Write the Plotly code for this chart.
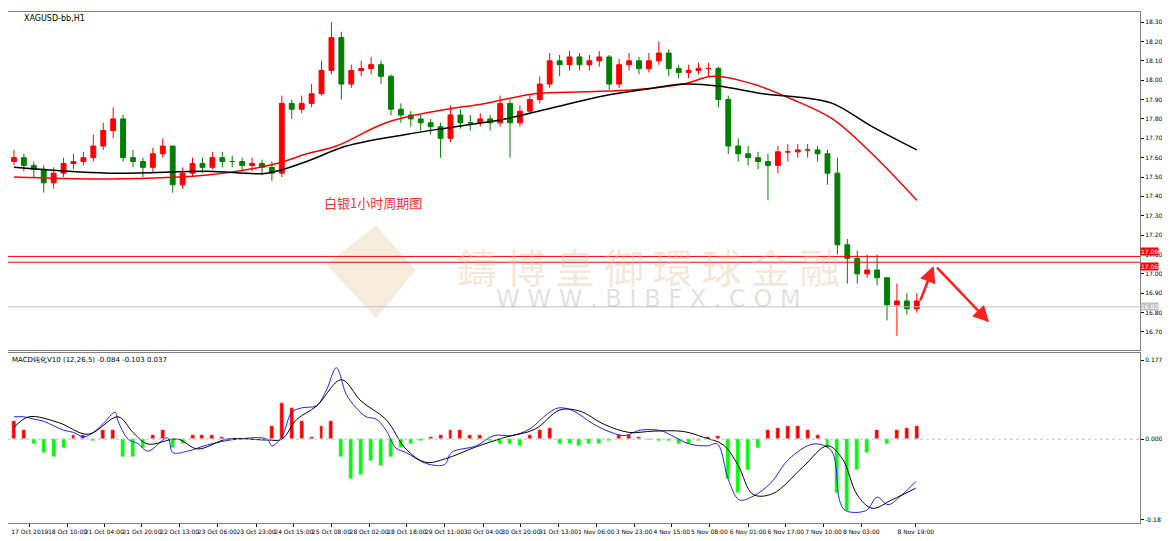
import plotly.graph_objects as go

first_open = 17.58
closes = [17.60,17.56,17.54,17.47,17.52,17.57,17.58,17.60,17.66,17.74,17.80,17.60,17.58,17.55,17.62,17.66,17.46,17.52,17.57,17.55,
          17.60,17.58,17.58,17.56,17.57,17.55,17.52,17.88,17.85,17.88,17.93,18.05,18.22,17.98,18.05,18.06,18.08,18.02,17.85,17.82,
          17.80,17.78,17.76,17.70,17.82,17.78,17.78,17.80,17.78,17.88,17.78,17.84,17.90,17.98,18.10,18.08,18.12,18.08,18.10,18.12,
          17.98,18.08,18.10,18.06,18.10,18.14,18.06,18.04,18.05,18.06,18.06,17.90,17.66,17.62,17.60,17.58,17.56,17.63,17.63,17.64,
          17.64,17.62,17.52,17.15,17.08,17.00,17.02,16.98,16.84,16.86,16.82,16.86]
highs = [17.64,17.62,17.58,17.56,17.55,17.60,17.62,17.63,17.72,17.78,17.86,17.82,17.64,17.60,17.65,17.70,17.64,17.55,17.60,17.60,
         17.63,17.63,17.61,17.60,17.60,17.59,17.58,17.92,17.90,17.92,17.98,18.10,18.30,18.25,18.08,18.10,18.12,18.10,18.03,17.88,
         17.84,17.82,17.80,17.78,17.87,17.85,17.82,17.83,17.82,17.92,17.90,17.87,17.93,18.02,18.14,18.13,18.15,18.14,18.13,18.15,
         18.13,18.11,18.14,18.12,18.14,18.20,18.16,18.08,18.08,18.09,18.09,18.07,17.92,17.70,17.66,17.63,17.62,17.66,17.67,17.67,
         17.67,17.66,17.64,17.60,17.18,17.12,17.10,17.10,16.98,16.95,16.90,16.90]
lows = [17.56,17.53,17.50,17.42,17.44,17.50,17.54,17.56,17.58,17.64,17.70,17.58,17.55,17.50,17.52,17.60,17.42,17.44,17.50,17.52,
        17.54,17.55,17.55,17.53,17.53,17.51,17.48,17.50,17.80,17.83,17.86,17.92,18.03,17.90,17.96,18.02,18.03,17.98,17.82,17.78,
        17.76,17.74,17.72,17.60,17.68,17.75,17.74,17.76,17.74,17.76,17.60,17.76,17.83,17.88,17.96,18.02,18.05,18.05,18.05,18.07,
        17.95,17.96,18.05,18.03,18.04,18.08,18.02,18.01,18.01,18.03,18.02,17.86,17.62,17.58,17.56,17.54,17.38,17.52,17.58,17.60,
        17.60,17.58,17.46,17.10,16.95,16.95,16.98,16.94,16.76,16.68,16.79,16.80]
opens = [first_open] + closes[:-1]

ma_fast_x = [0,9.5,19.5,26.5,29.5,32.5,37.5,42.5,47.5,52.5,57.5,62.5,67.5,70.5,74.5,78.5,82.5,86.5,91]
ma_fast_y = [17.50,17.49,17.51,17.57,17.62,17.66,17.78,17.84,17.88,17.93,17.94,17.95,17.98,18.02,17.98,17.90,17.80,17.62,17.38]
ma_slow_x = [0,9.5,19.5,25.5,29.5,33.5,39.5,44.5,49.5,54.5,59.5,64.5,67.5,71,75.5,79.5,82.5,86.5,91]
ma_slow_y = [17.55,17.52,17.53,17.52,17.58,17.66,17.72,17.76,17.80,17.86,17.92,17.96,17.98,17.97,17.93,17.91,17.88,17.76,17.64]

hist = [.04,.02,-.01,-.03,-.04,-.02,.01,.01,-.005,.02,.02,-.04,-.04,-.02,.01,.02,-.02,-.01,.01,.01,
        .01,.005,-.002,-.003,-.003,-.003,.03,.08,.07,.04,.005,.03,.04,-.04,-.09,-.08,-.05,-.06,-.04,-.02,
        -.01,-.005,.005,.01,.02,.02,.01,.01,-.005,-.01,-.01,-.015,.01,.02,.025,-.01,-.01,-.015,-.01,-.01,
        -.005,.01,.01,.005,-.002,-.005,-.005,-.01,-.01,-.005,.005,.008,-.09,-.12,-.07,-.02,.02,.025,.03,.03,
        .02,.01,-.02,-.12,-.16,-.07,-.03,.02,-.01,.02,.025,.03]

macd_x = [0,1,2,3,4,5,6,7,8,9,10.2,10.5,11.5,12.5,13.5,15.5,16,17.5,19.5,22.5,25.5,26,27,28,29,30.5,31.5,32.5,33.5,34.5,35.5,36.5,37.5,38.5,39.5,
          41.6,43.4,44.1,46.6,48.4,50.2,52,53.8,54.9,56.3,58.4,60.2,61.6,63.1,65.2,66.3,68.1,69.9,70.9,72,73.1,74.5,76.3,78.1,80.6,82.4,83.2,83.8,85.9,87,88.1,89.5,90.9]
macd_y = [.05,.05,.045,.04,.03,.02,.015,.005,.015,.035,.06,.04,0,-.01,-.027,.003,-.03,-.027,-.013,0,0,-.015,.005,.06,.07,.075,.11,.16,.10,.07,.05,.045,.02,-.02,-.03,
          -.055,-.057,-.03,-.015,.008,.008,.023,.057,.07,.064,.034,.015,.008,.02,.019,.008,-.011,-.015,-.011,-.09,-.136,-.128,-.098,-.045,-.011,-.026,-.136,-.16,-.16,-.13,-.147,-.125,-.095]
sig_x = [0,1.5,4.5,7.5,10.5,12,13.5,16.5,18.5,21.5,25.5,27,28.5,30.5,33,35,37.5,39.5,41.5,43.5,46.5,49.5,52.5,55,57,59.5,62,64.5,67.5,69.5,71.5,73,74.5,76.5,79.5,82,83.5,85,86.5,88.5,90.9]
sig_y = [.026,.05,.037,.011,.05,.015,-.011,0,-.022,0,-.002,0,.044,.074,.133,.085,.044,-.022,-.052,-.044,-.018,.004,.022,.065,.063,.033,.015,.018,.017,.004,-.013,-.059,-.124,-.122,-.063,-.015,-.044,-.125,-.155,-.136,-.11]

price_ticks = [16.70,16.80,16.90,17.00,17.10,17.20,17.30,17.40,17.50,17.60,17.70,17.80,17.90,18.00,18.10,18.20,18.30]
level_lines = [17.09,17.06]
last_price = 16.83
x_tick_pos = [0,3.8,7.5,11.3,15.1,18.9,22.8,26.6,30.4,34.2,38,41.8,45.7,49.5,53.3,57.1,60.9,64.7,68.5,72.4,76.2,80,83.8,89.3]
x_tick_text = ["17 Oct 2019","18 Oct 10:00","21 Oct 04:00","21 Oct 20:00","22 Oct 13:00","23 Oct 06:00","23 Oct 23:00",
               "24 Oct 15:00","25 Oct 08:00","28 Oct 02:00","28 Oct 18:00","29 Oct 11:00","30 Oct 04:00","30 Oct 20:00",
               "31 Oct 13:00","1 Nov 06:00","3 Nov 23:00","4 Nov 15:00","5 Nov 08:00","6 Nov 01:00","6 Nov 17:00",
               "7 Nov 10:00","8 Nov 03:00","8 Nov 19:00"]

n = len(closes)
idx = list(range(n))
XR = [-0.6, 113.5]
F = "DejaVu Sans"

fig = go.Figure()
fig.add_trace(go.Candlestick(x=idx, open=opens, high=highs, low=lows, close=closes,
    increasing=dict(line=dict(color="#ff0000", width=1), fillcolor="#ff0000"),
    decreasing=dict(line=dict(color="#008000", width=1), fillcolor="#008000"),
    whiskerwidth=0, xaxis="x", yaxis="y", showlegend=False, hoverinfo="skip"))
fig.add_trace(go.Scatter(x=ma_fast_x, y=ma_fast_y, mode="lines", line=dict(color="#ff0000", width=1.5, shape="spline"), xaxis="x", yaxis="y", showlegend=False))
fig.add_trace(go.Scatter(x=ma_slow_x, y=ma_slow_y, mode="lines", line=dict(color="#000000", width=1.5, shape="spline"), xaxis="x", yaxis="y", showlegend=False))

fig.add_trace(go.Bar(x=idx, y=hist, marker_color=["#ff0000" if v > 0 else "#00ff00" for v in hist],
    width=0.4, xaxis="x2", yaxis="y2", showlegend=False))
fig.add_trace(go.Scatter(x=macd_x, y=macd_y, mode="lines", line=dict(color="#2020ff", width=1, shape="spline"), xaxis="x2", yaxis="y2", showlegend=False))
fig.add_trace(go.Scatter(x=sig_x, y=sig_y, mode="lines", line=dict(color="#000000", width=1, shape="spline"), xaxis="x2", yaxis="y2", showlegend=False))

shapes = []
for lv in level_lines:
    shapes.append(dict(type="line", xref="paper", x0=0, x1=1, yref="y", y0=lv, y1=lv, line=dict(color="#ff0000", width=1)))
shapes.append(dict(type="line", xref="paper", x0=0, x1=1, yref="y", y0=last_price, y1=last_price, line=dict(color="#c0c0c0", width=1)))
shapes.append(dict(type="line", xref="paper", x0=0, x1=1, yref="y2", y0=0, y1=0, line=dict(color="#c0c0c0", width=1, dash="dot")))
shapes.append(dict(type="path", xref="x", yref="y", path="M 31.5 17.05 L 36.5 17.25 L 40.5 17.02 L 36.5 16.77 Z",
                   fillcolor="rgba(230,200,160,0.35)", line=dict(width=0), layer="below"))

ann = []
ann.append(dict(xref="paper", yref="paper", x=0.012, y=1.0, yanchor="top", text="XAGUSD-bb,H1", showarrow=False, xanchor="left", font=dict(size=8, family=F, color="#000")))
ann.append(dict(xref="paper", yref="paper", x=0.002, y=0.33, yanchor="top", text="MACD钝化V10 (12,26,5) -0.084 -0.103 0.037", showarrow=False, xanchor="left", font=dict(size=7, family=F, color="#000")))
ann.append(dict(xref="x", yref="y", x=31, y=17.37, text="白银1小时周期图", showarrow=False, xanchor="left", font=dict(size=13, family="Noto Sans CJK SC", color="#ff3030")))
ann.append(dict(xref="x", yref="y", x=64, y=17.04, text="鑄 博 皇 御 環 球 金 融", showarrow=False, font=dict(size=40, family="Noto Sans CJK TC", color="rgba(225,190,150,0.35)")))
ann.append(dict(xref="x", yref="y", x=64, y=16.87, text="W W W . B I B F X . C O M", showarrow=False, font=dict(size=24, family=F, color="rgba(170,170,170,0.35)")))
for lv in level_lines:
    ann.append(dict(xref="paper", yref="y", x=1.0, y=lv, text=f"{lv:.2f}", showarrow=False, xanchor="left", bgcolor="#ff0000", font=dict(size=6, family=F, color="white"), borderpad=0, yanchor="bottom" if lv > 17.07 else "top"))
ann.append(dict(xref="paper", yref="y", x=1.0, y=last_price, text=f"{last_price:.2f}", showarrow=False, xanchor="left", bgcolor="#c0c0c0", font=dict(size=6, family=F, color="white"), borderpad=0))
ann.append(dict(xref="x", yref="y", x=92.7, y=17.04, ax=91.3, ay=16.855, axref="x", ayref="y", showarrow=True, arrowhead=2, arrowsize=1.3, arrowwidth=2.5, arrowcolor="#ff2020", text=""))
ann.append(dict(xref="x", yref="y", x=98.3, y=16.75, ax=92.9, ay=17.04, axref="x", ayref="y", showarrow=True, arrowhead=2, arrowsize=1.3, arrowwidth=2.5, arrowcolor="#ff2020", text=""))

ax_common = dict(showgrid=False, zeroline=False, showline=True, linecolor="#808080", mirror=True, ticks="outside", ticklen=3, tickcolor="#000", tickfont=dict(size=6, family=F, color="#000"))
fig.update_layout(
    width=1160, height=533, margin=dict(l=0, r=28, t=4, b=18),
    paper_bgcolor="white", plot_bgcolor="white", bargap=0,
    shapes=shapes, annotations=ann,
    xaxis=dict(domain=[0, 1], range=XR, anchor="y", showticklabels=False, rangeslider=dict(visible=False), showgrid=False, zeroline=False, showline=True, linecolor="#808080", mirror=True),
    yaxis=dict(domain=[0.3386, 1], range=[16.607, 18.352], side="right", tickvals=price_ticks, ticktext=[f"{v:.2f}" for v in price_ticks], **ax_common),
    xaxis2=dict(domain=[0, 1], range=XR, anchor="y2", tickvals=[p + 1.6 for p in x_tick_pos], ticktext=x_tick_text, tickangle=0, **ax_common),
    yaxis2=dict(domain=[0, 0.3327], range=[-0.188, 0.193], side="right", tickvals=[-0.181, 0, 0.177], ticktext=["-0.181", "0.000", "0.177"], **ax_common),
)
fig.write_html("out.html")
